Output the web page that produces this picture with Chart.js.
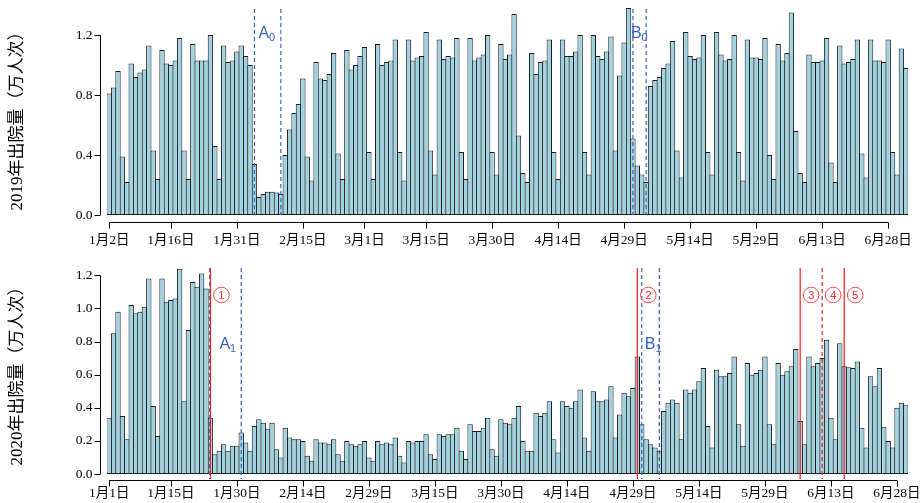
<!DOCTYPE html>
<html>
<head>
<meta charset="utf-8">
<script src="https://cdn.jsdelivr.net/npm/chart.js@4"></script>
<style>
  body { margin: 0; background: #fff; width: 924px; height: 503px; overflow: hidden; }
  .box { position: absolute; left: 0; width: 924px; }
</style>
</head>
<body>
<div class="box" style="top:0;height:250px"><canvas id="c2019"></canvas></div>
<div class="box" style="top:250px;height:253px"><canvas id="c2020"></canvas></div>
<script>
// daily discharges (10k person-times)
// 2019: Jan 2 .. Jul 2
const visits2019 = [
  0.81, 0.85, 0.96, 0.39, 0.22, 1.01, 0.92, 0.95, 0.97, 1.13,
  0.43, 0.24, 1.10, 1.01, 1.00, 1.03, 1.18, 0.43, 0.24, 1.14,
  1.03, 1.03, 1.03, 1.20, 0.46, 0.24, 1.13, 1.02, 1.03, 1.09,
  1.13, 1.06, 1.00, 0.34, 0.12, 0.14, 0.155, 0.155, 0.15, 0.14,
  0.40, 0.57, 0.68, 0.74, 0.91, 0.39, 0.23, 1.02, 0.91, 0.90,
  0.94, 1.08, 0.41, 0.24, 1.10, 0.97, 1.00, 1.06, 1.12, 0.42, 0.24,
  1.14, 1.00, 1.02, 1.03, 1.17, 0.42, 0.23, 1.17, 1.03, 1.05,
  1.06, 1.22, 0.43, 0.27, 1.17, 1.04, 1.06, 1.05, 1.18, 0.42,
  0.24, 1.18, 1.03, 1.05, 1.07, 1.20, 0.42, 0.27, 1.14, 1.04, 1.07,
  1.34, 0.53, 0.28, 0.22, 1.08, 0.94, 1.02, 1.03, 1.17, 0.42,
  0.24, 1.17, 1.06, 1.06, 1.09, 1.20, 0.42, 0.27, 1.20, 1.06,
  1.04, 1.09, 1.19, 0.43, 0.93, 1.15, 1.38, 0.51, 0.33, 0.27,
  0.22, 0.86, 0.90, 0.92, 0.98, 1.01, 1.16, 0.43, 0.25, 1.22,
  1.06, 1.04, 1.05, 1.20, 0.42, 0.27, 1.22, 1.07, 1.03, 1.04,
  1.20, 0.42, 0.23, 1.17, 1.05, 1.05, 1.04, 1.18, 0.40, 0.24, 1.14,
  1.03, 1.08, 1.35, 0.56, 0.28, 0.22, 1.07, 1.02, 1.02, 1.03,
  1.18, 0.35, 0.22, 1.13, 1.01, 1.02, 1.04, 1.17, 0.41, 0.25,
  1.17, 1.03, 1.03, 1.02, 1.17, 0.42, 0.27, 1.11, 0.98
];
// 2020: Jan 1 .. Jun 30
const visits2020 = [
  0.34, 0.85, 0.98, 0.35, 0.21, 1.02, 0.97, 0.98, 1.01, 1.18,
  0.41, 0.23, 1.18, 1.04, 1.05, 1.06, 1.24, 0.44, 0.87, 1.16,
  1.13, 1.21, 1.12, 0.34, 0.12, 0.14, 0.18, 0.14, 0.17, 0.17,
  0.25, 0.19, 0.14, 0.29, 0.33, 0.31, 0.27, 0.31, 0.15, 0.10,
  0.28, 0.22, 0.21, 0.21, 0.20, 0.11, 0.08, 0.21, 0.19, 0.19,
  0.18, 0.21, 0.12, 0.08, 0.20, 0.18, 0.17, 0.18, 0.20, 0.10, 0.08,
  0.20, 0.18, 0.19, 0.18, 0.22, 0.11, 0.07, 0.20, 0.19, 0.20,
  0.20, 0.24, 0.12, 0.09, 0.24, 0.23, 0.24, 0.24, 0.28, 0.14,
  0.09, 0.30, 0.26, 0.26, 0.28, 0.34, 0.15, 0.11, 0.33, 0.31, 0.30,
  0.34, 0.41, 0.20, 0.14, 0.14, 0.37, 0.35, 0.37, 0.44, 0.21,
  0.13, 0.44, 0.41, 0.40, 0.44, 0.51, 0.22, 0.14, 0.50, 0.44,
  0.44, 0.45, 0.53, 0.22, 0.36, 0.49, 0.47, 0.52, 0.71, 0.30,
  0.21, 0.18, 0.16, 0.14, 0.38, 0.43, 0.45, 0.43, 0.21, 0.51,
  0.49, 0.51, 0.56, 0.64, 0.29, 0.16, 0.63, 0.59, 0.59, 0.61,
  0.71, 0.30, 0.17, 0.67, 0.60, 0.61, 0.63, 0.71, 0.30, 0.18, 0.67,
  0.60, 0.62, 0.65, 0.755, 0.32, 0.18, 0.71, 0.65, 0.67, 0.70,
  0.81, 0.34, 0.21, 0.79, 0.65, 0.645, 0.64, 0.68, 0.28, 0.16,
  0.59, 0.53, 0.64, 0.285, 0.20, 0.16, 0.40, 0.43, 0.415
];

// x tick positions (bar index) and their labels
const tickIdx2019 = [0, 14, 29, 44, 58, 72, 87, 102, 117, 132, 147, 162, 177];
const tickIdx2020 = [0, 14, 29, 44, 59, 74, 89, 104, 119, 134, 149, 164, 179];
const yTicks2019 = [0, 0.4, 0.8, 1.2];
const yTicks2020 = [0, 0.2, 0.4, 0.6, 0.8, 1.0, 1.2];

// marker lines: bar index where the line sits
const marks2019 = [
  { at: 33, color: '#3563c0', dash: [4, 3] },
  { at: 39, color: '#3563c0', dash: [4, 3] },
  { at: 119, color: '#3563c0', dash: [4, 3] },
  { at: 122, color: '#3563c0', dash: [4, 3] }
];
const marks2020 = [
  { at: 22.85, color: '#3563c0', dash: [4, 3] },
  { at: 23, color: '#ff1a1a', dash: [] },
  { at: 30, color: '#3563c0', dash: [4, 3] },
  { at: 120, color: '#ff1a1a', dash: [] },
  { at: 121, color: '#3563c0', dash: [4, 3] },
  { at: 125, color: '#3563c0', dash: [4, 3] },
  { at: 157, color: '#ff1a1a', dash: [] },
  { at: 162, color: '#ff1a1a', dash: [4, 3] },
  { at: 167, color: '#ff1a1a', dash: [] }
];
const letters2019 = [{ at: 33, dx: 4, main: 'A', sub: '0' }, { at: 119, dx: -2, main: 'B', sub: '0' }];
const letters2020 = [{ at: 23, dx: 9, main: 'A', sub: '1' }, { at: 121, dx: 3, main: 'B', sub: '1' }];
const circled2020 = [{ at: 23, n: '1' }, { at: 120, n: '2' }, { at: 157, n: '3' }, { at: 162, n: '4' }, { at: 167, n: '5' }];

function makeDays(y, m, d, n) {
  const out = [];
  for (let k = 0; k < n; k++) {
    const t = new Date(y, m, d + k);
    out.push((t.getMonth() + 1) + '月' + t.getDate() + '日');
  }
  return out;
}

const serif = '"Liberation Serif", "Noto Sans CJK SC", serif';

// R style axes + annotations
const rAxes = {
  id: 'rAxes',
  afterDatasetsDraw(chart, args, o) {
    const ctx = chart.ctx, xs = chart.scales.x, ys = chart.scales.y, a = chart.chartArea;
    ctx.save();
    // vertical marker lines
    o.marks.forEach(m => {
      const px = xs.getPixelForValue(m.at);
      ctx.beginPath();
      ctx.setLineDash(m.dash);
      ctx.strokeStyle = m.color;
      ctx.lineWidth = 1.2;
      ctx.moveTo(px, a.top + o.lineTop);
      ctx.lineTo(px, a.bottom + o.lineBottom);
      ctx.stroke();
    });
    ctx.setLineDash([]);
    // A/B letters
    o.letters.forEach(l => {
      const px = xs.getPixelForValue(l.at) + l.dx;
      ctx.fillStyle = '#3563c0';
      ctx.textAlign = 'left';
      ctx.textBaseline = 'alphabetic';
      ctx.font = '16px "Liberation Sans", Arial, sans-serif';
      ctx.fillText(l.main, px, a.top + o.letterY);
      const w = ctx.measureText(l.main).width;
      ctx.font = '11px "Liberation Sans", Arial, sans-serif';
      ctx.fillText(l.sub, px + w, a.top + o.letterY + 3);
    });
    // circled numbers
    o.circled.forEach(c => {
      const cx = xs.getPixelForValue(c.at) + 11, cy = a.top + 33;
      ctx.beginPath();
      ctx.strokeStyle = '#ff4a4a';
      ctx.lineWidth = 1;
      ctx.arc(cx, cy, 7.8, 0, Math.PI * 2);
      ctx.stroke();
      ctx.fillStyle = '#ff2a2a';
      ctx.font = '11.5px "Liberation Sans", Arial, sans-serif';
      ctx.textAlign = 'center';
      ctx.textBaseline = 'middle';
      ctx.fillText(c.n, cx, cy + 0.5);
    });

    ctx.strokeStyle = '#000';
    ctx.fillStyle = '#000';
    ctx.lineWidth = 1;
    // y axis
    const ax = Math.round(a.left - 7) + 0.5;
    ctx.beginPath();
    ctx.moveTo(ax, ys.getPixelForValue(o.yTicks[0]));
    ctx.lineTo(ax, ys.getPixelForValue(o.yTicks[o.yTicks.length - 1]));
    o.yTicks.forEach(v => {
      const py = Math.round(ys.getPixelForValue(v)) + 0.5;
      ctx.moveTo(ax, py);
      ctx.lineTo(ax - 6, py);
    });
    ctx.stroke();
    ctx.font = '13.5px ' + serif;
    ctx.textAlign = 'right';
    ctx.textBaseline = 'middle';
    o.yTicks.forEach(v => ctx.fillText(v.toFixed(1), ax - 8, ys.getPixelForValue(v)));

    // x axis
    const ay = Math.round(a.bottom + o.axisGap) + 0.5;
    const first = xs.getPixelForValue(o.xTicks[0]);
    const last = xs.getPixelForValue(o.xTicks[o.xTicks.length - 1]);
    ctx.beginPath();
    ctx.moveTo(first, ay);
    ctx.lineTo(last, ay);
    o.xTicks.forEach(i => {
      const px = Math.round(xs.getPixelForValue(i)) + 0.5;
      ctx.moveTo(px, ay);
      ctx.lineTo(px, ay + 6);
    });
    ctx.stroke();
    ctx.textAlign = 'center';
    o.xTicks.forEach(i => ctx.fillText(chart.data.labels[i], xs.getPixelForValue(i), ay + o.labelGap));

    // axis title
    ctx.save();
    ctx.translate(18, o.titleY);
    ctx.rotate(-Math.PI / 2);
    ctx.font = '17px ' + serif;
    ctx.fillText(o.title, 0, 0);
    ctx.restore();
    ctx.restore();
  }
};

function makeChart(id, values, labels, yMax, pad, axisOpts) {
  return new Chart(document.getElementById(id), {
    type: 'bar',
    data: {
      labels: labels,
      datasets: [{
        data: values,
        backgroundColor: '#a0d3df',
        borderColor: '#1c1c1c',
        borderWidth: 1,
        borderSkipped: false,
        barPercentage: 1.22,
        categoryPercentage: 1
      }]
    },
    options: {
      responsive: true,
      maintainAspectRatio: false,
      animation: false,
      layout: { padding: pad },
      plugins: { legend: { display: false }, tooltip: { enabled: false }, rAxes: axisOpts },
      scales: {
        x: { display: false },
        y: { display: false, min: 0, max: yMax }
      }
    },
    plugins: [rAxes]
  });
}

makeChart('c2019', visits2019, makeDays(2019, 0, 2, visits2019.length), 1.4,
  { left: 107, right: 16, top: 5, bottom: 35 },
  { xTicks: tickIdx2019, yTicks: yTicks2019, marks: marks2019, letters: letters2019, circled: [],
    lineTop: 4, lineBottom: 0, letterY: 33, axisGap: 7, labelGap: 18,
    title: '2019年出院量（万人次）', titleY: 117 });

makeChart('c2020', visits2020, makeDays(2020, 0, 1, visits2020.length), 1.28,
  { left: 107, right: 16, top: 12, bottom: 29 },
  { xTicks: tickIdx2020, yTicks: yTicks2020, marks: marks2020, letters: letters2020, circled: circled2020,
    lineTop: 6, lineBottom: 5, letterY: 87, axisGap: 6, labelGap: 13,
    title: '2020年出院量（万人次）', titleY: 122 });
</script>
</body>
</html>
